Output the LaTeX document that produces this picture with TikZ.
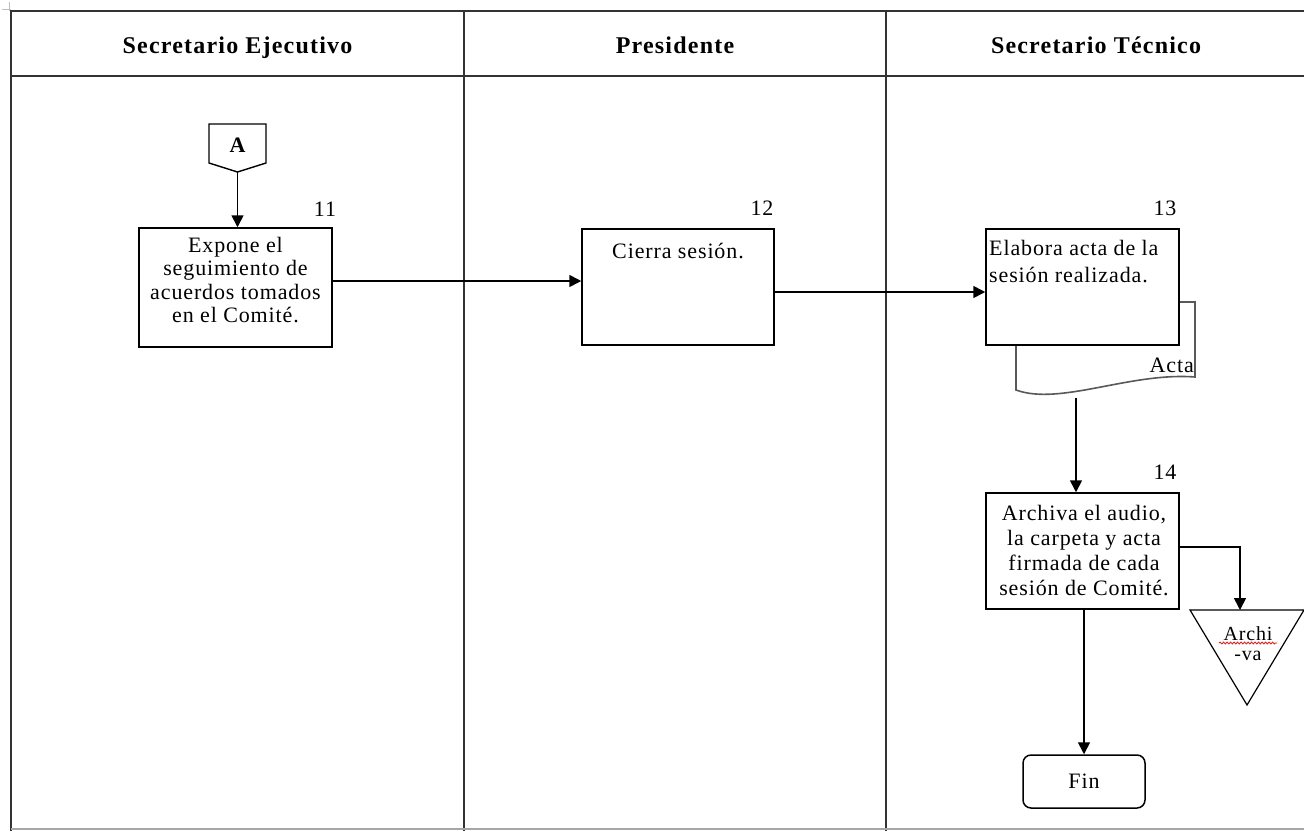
\documentclass[tikz,border=0pt]{standalone}
\usepackage{fontspec}
\setmainfont{Liberation Serif}
\newfontfamily\bodyfont[LetterSpace=4]{Liberation Serif}
\newfontfamily\headfont[LetterSpace=5]{Liberation Serif}
\usetikzlibrary{arrows.meta,decorations.pathmorphing}

\begin{document}
\begin{tikzpicture}[x=1pt,y=-1pt,
  frame/.style={draw=black!80, line width=1.6pt},
  box/.style={draw, line width=1.5pt, inner sep=0pt, fill=white},
  txt/.style={font=\bodyfont\fontsize{22}{23.5}\selectfont, inner sep=0pt},
  head/.style={font=\headfont\bfseries\fontsize{24}{26}\selectfont, inner sep=0pt},
  flow/.style={line width=1.6pt},
  arr/.style={flow, -{Triangle[length=12pt,width=12pt]}},
  docline/.style={draw=black!65, line width=1.6pt}]
\useasboundingbox (0,0) rectangle (1304,831);

% small anchor mark in the corner
\draw[black!25, line width=1pt] (9,2) -- (9,11) (2,9) -- (11,9);

% swimlane frame
\draw[frame] (1304,11) -- (11,11) -- (11,831);
\draw[frame] (11,76) -- (1304,76);
\draw[frame] (464,11) -- (464,831);
\draw[frame] (886,11) -- (886,831);
\draw[black!35, line width=1.2pt] (11,829) -- (1304,829);

% lane headers
\node[head, anchor=base] (h1) at (237.5,53) {Secretario Ejecutivo};
\node[head, anchor=base] (h2) at (675,53) {Presidente};
\node[head, anchor=base] (h3) at (1096,53) {Secretario Técnico};

% off-page connector A
\draw[line width=1.4pt, fill=white] (209,124) -- (266,124) -- (266,163) -- (237.5,172) -- (209,163) -- cycle;
\node[txt, font=\bodyfont\bfseries\fontsize{22}{24}\selectfont, anchor=base] (conA) at (237.5,152) {A};
\coordinate (conAtip) at (237.5,172);

% step 11
\node[box, minimum width=193pt, minimum height=119pt] (b11) at (235.5,287.5) {};
\node[txt, align=center, anchor=north] (t11) at (235.5,237) {Expone el\\seguimiento de\\acuerdos tomados\\en el Comité.};
\node[txt, anchor=base] (n11) at (325,216) {11};

% step 12
\node[box, minimum width=192pt, minimum height=116pt] (b12) at (678,287) {};
\node[txt, anchor=base] (t12) at (678,258) {Cierra sesión.};
\node[txt, anchor=base] (n12) at (762,215) {12};

% step 13 with its document
\draw[docline, fill=white] (1016,330) -- (1016,390)
  .. controls (1060,406) and (1130,372) .. (1195,377) -- (1195,302) -- (1170,302);
\coordinate (docb) at (1076,397.5);
\node[txt, anchor=base east] (acta) at (1194,372) {Acta};
\node[box, minimum width=193pt, minimum height=116pt] (b13) at (1082.5,287) {};
\node[txt, align=left, anchor=north west, font=\bodyfont\fontsize{22}{27}\selectfont] (t13) at (989,240) {Elabora acta de la\\sesión realizada.};
\node[txt, anchor=base] (n13) at (1165,215) {13};

% step 14
\node[box, minimum width=193pt, minimum height=116pt] (b14) at (1082.5,551) {};
\node[txt, align=center, anchor=north, font=\bodyfont\fontsize{22}{25}\selectfont] (t14) at (1084,505) {Archiva el audio,\\la carpeta y acta\\firmada de cada\\sesión de Comité.};
\node[txt, anchor=base] (n14) at (1165,479) {14};

% archive
\draw[line width=1.2pt, fill=white] (1190,610) -- (1304,610) -- (1247,705) -- cycle;
\coordinate (archtop) at (1240,610);
\node[txt, align=center, anchor=base, font=\bodyfont\fontsize{20}{20}\selectfont] (arch) at (1248,660) {Archi\\-va};
\draw[red, line width=0.7pt, decorate, decoration={snake, amplitude=1pt, segment length=3.5pt}] (1219,643) -- (1277,643);

% end
\node[draw, line width=1.5pt, rounded corners=8pt, minimum width=122pt, minimum height=53pt, inner sep=0pt] (fin) at (1084,781.5) {};
\node[txt, anchor=base] (tfin) at (1084,788) {Fin};

% connectors
\draw[arr] (conAtip) -- (conAtip |- b11.north);
\draw[arr] ([yshift=6.5pt]b11.east) -- ([yshift=6.5pt]b11.east -| b12.west);
\draw[arr] ([yshift=-5pt]b12.east) -- ([yshift=-5pt]b12.east -| b13.west);
\draw[arr] (docb) -- (docb |- b14.north);
\draw[arr] ([yshift=4pt]b14.east) -| (archtop);
\draw[arr] (fin.north |- b14.south) -- (fin.north);
\end{tikzpicture}
\end{document}
